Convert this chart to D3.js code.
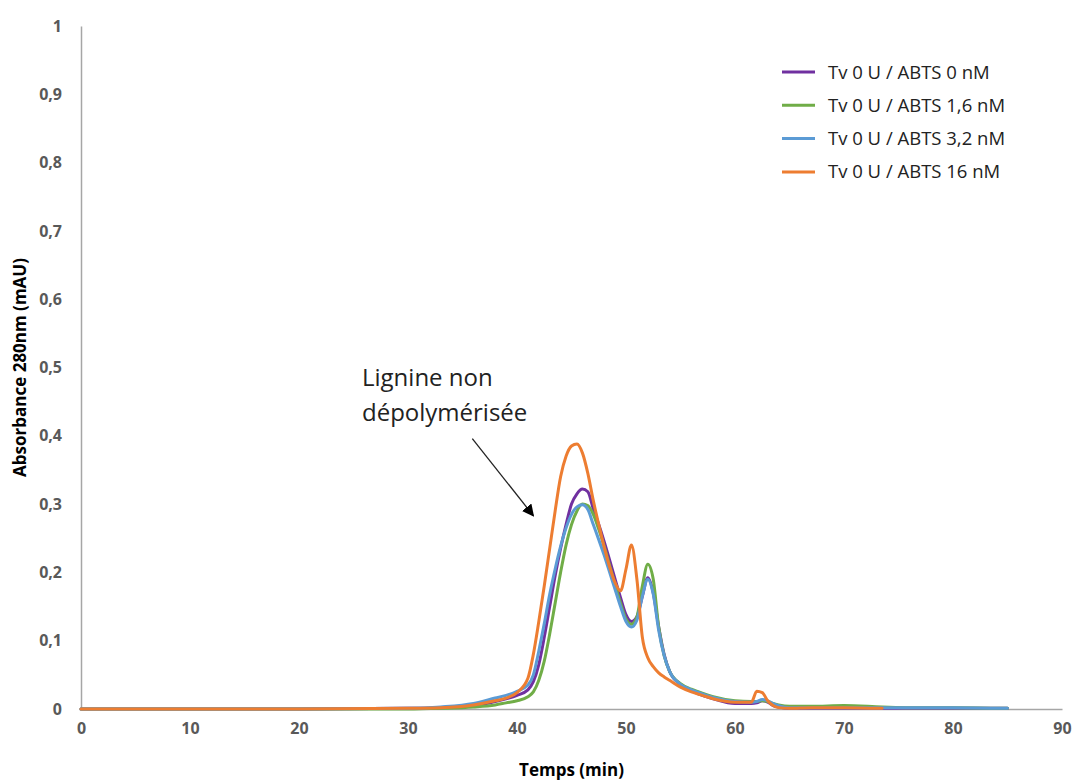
<!DOCTYPE html>
<html>
<head>
<meta charset="utf-8">
<script src="https://cdn.jsdelivr.net/npm/d3@7"></script>
<style>
  html, body { margin: 0; padding: 0; background: #fff; }
  svg { display: block; }
  text { font-family: "Open Sans", "DejaVu Sans", sans-serif; }
</style>
</head>
<body>
<svg id="chart" width="1075" height="782"></svg>
<script>
// ---------------- DATA ----------------
const seriesNames = ["Tv 0 U / ABTS 0 nM", "Tv 0 U / ABTS 1,6 nM", "Tv 0 U / ABTS 3,2 nM", "Tv 0 U / ABTS 16 nM"];
const seriesColors = ["#7030A0", "#70AD47", "#5B9BD5", "#ED7D31"];

const times = [0, 10, 20, 30, 33, 36, 38, 39, 40, 41, 41.5, 42, 42.5, 43, 43.5, 44, 44.5, 45, 45.5, 46, 46.5, 47, 47.5, 48, 48.5, 49, 49.5, 50, 50.5, 51, 51.5, 52, 52.5, 53, 53.5, 54, 55, 56, 57, 58, 60, 61.5, 62, 62.5, 63, 63.5, 64, 65, 67, 70, 73.5, 76, 80, 85];

const abts0 = [0, 0, 0, 0.001, 0.002, 0.005, 0.011, 0.015, 0.02, 0.028, 0.04, 0.065, 0.105, 0.15, 0.195, 0.235, 0.27, 0.3, 0.315, 0.322, 0.318, 0.293, 0.27, 0.245, 0.218, 0.19, 0.163, 0.138, 0.128, 0.135, 0.165, 0.192, 0.17, 0.12, 0.08, 0.055, 0.036, 0.027, 0.02, 0.015, 0.008, 0.008, 0.009, 0.012, 0.01, 0.005, 0.003, 0.001, 0.001, 0.001, 0.001, 0.001, 0.001, 0.001];

const abts16nm = [0, 0, 0, 0, 0.001, 0.003, 0.006, 0.009, 0.012, 0.018, 0.025, 0.042, 0.07, 0.11, 0.155, 0.2, 0.24, 0.27, 0.29, 0.3, 0.298, 0.285, 0.263, 0.238, 0.21, 0.182, 0.155, 0.132, 0.124, 0.135, 0.18, 0.212, 0.19, 0.12, 0.078, 0.055, 0.037, 0.029, 0.023, 0.018, 0.012, 0.011, 0.011, 0.012, 0.011, 0.008, 0.006, 0.004, 0.004, 0.005, 0.003, 0.002, 0.002, 0.001];

const abts32nm = [0, 0, 0, 0.001, 0.003, 0.008, 0.016, 0.02, 0.026, 0.035, 0.05, 0.085, 0.125, 0.168, 0.205, 0.238, 0.265, 0.285, 0.296, 0.299, 0.292, 0.27, 0.248, 0.225, 0.2, 0.175, 0.15, 0.128, 0.12, 0.13, 0.165, 0.19, 0.168, 0.115, 0.078, 0.055, 0.036, 0.028, 0.022, 0.017, 0.011, 0.01, 0.011, 0.014, 0.012, 0.008, 0.005, 0.002, 0.002, 0.002, 0.002, 0.002, 0.002, 0.001];

const abts16 = [0, 0, 0, 0.001, 0.002, 0.006, 0.012, 0.016, 0.024, 0.045, 0.08, 0.128, 0.18, 0.235, 0.29, 0.34, 0.37, 0.385, 0.388, 0.375, 0.345, 0.305, 0.27, 0.237, 0.208, 0.185, 0.173, 0.205, 0.24, 0.19, 0.105, 0.075, 0.062, 0.053, 0.047, 0.042, 0.032, 0.025, 0.02, 0.015, 0.01, 0.01, 0.026, 0.024, 0.012, 0.005, 0.002, 0.001, 0.002, 0.002, 0.001, null, null, null];

const seriesValues = [abts0, abts16nm, abts32nm, abts16];

const xTickValues = [0, 10, 20, 30, 40, 50, 60, 70, 80, 90];
const yTickValues = [0, 0.1, 0.2, 0.3, 0.4, 0.5, 0.6, 0.7, 0.8, 0.9, 1];
const yTickLabels = ["0", "0,1", "0,2", "0,3", "0,4", "0,5", "0,6", "0,7", "0,8", "0,9", "1"];

const xTitle = "Temps (min)";
const yTitle = "Absorbance 280nm (mAU)";
const annotationLines = ["Lignine non", "dépolymérisée"];
// annotation arrow in data coordinates: [start, end]
const arrowFrom = [35.9, 0.396];
const arrowTo = [41.5, 0.283];

// ---------------- CHART ----------------
const svg = d3.select("#chart");
const x = d3.scaleLinear().domain([0, 90]).range([81, 1062]);
const y = d3.scaleLinear().domain([0, 1]).range([709, 26]);

const axisColor = "#a6a6a6";
const tickColor = "#595959";

// Y axis
const yAxis = svg.append("g").attr("transform", `translate(${x(0)},0)`)
  .call(d3.axisLeft(y).tickValues(yTickValues).tickSize(0).tickPadding(19)
    .tickFormat((d, i) => yTickLabels[i]));
yAxis.select(".domain").attr("stroke", axisColor).attr("stroke-width", 1.5);
yAxis.selectAll("text").attr("fill", tickColor).attr("font-size", 16).attr("font-weight", 700)
  .attr("font-family", "'Open Sans', sans-serif");

// X axis
const xAxis = svg.append("g").attr("transform", `translate(0,${y(0)})`)
  .call(d3.axisBottom(x).tickValues(xTickValues).tickSize(0).tickPadding(14).tickFormat(d3.format("d")));
xAxis.select(".domain").attr("stroke", axisColor).attr("stroke-width", 1.5);
xAxis.selectAll("text").attr("fill", tickColor).attr("font-size", 16).attr("font-weight", 700)
  .attr("font-family", "'Open Sans', sans-serif");

// Axis titles
svg.append("text")
  .attr("x", (x(0) + x(90)) / 2).attr("y", 776)
  .attr("text-anchor", "middle").attr("font-size", 17).attr("font-weight", 700).attr("fill", "#000")
  .text(xTitle);
svg.append("text")
  .attr("transform", `translate(26,${(y(0) + y(1)) / 2}) rotate(-90)`)
  .attr("text-anchor", "middle").attr("font-size", 17).attr("font-weight", 700).attr("fill", "#000")
  .text(yTitle);

// Lines
const line = d3.line()
  .defined(d => d[1] !== null)
  .x(d => x(d[0]))
  .y(d => y(d[1]))
  .curve(d3.curveMonotoneX);

seriesValues.forEach((vals, i) => {
  const pts = times.map((t, j) => [t, vals[j]]);
  svg.append("path")
    .datum(pts)
    .attr("fill", "none")
    .attr("stroke", seriesColors[i])
    .attr("stroke-width", 3)
    .attr("stroke-linejoin", "round")
    .attr("stroke-linecap", "round")
    .attr("d", line);
});

// Legend
const legend = svg.append("g").attr("transform", "translate(782,72)");
seriesNames.forEach((name, i) => {
  const g = legend.append("g").attr("transform", `translate(0,${i * 33.3})`);
  g.append("line").attr("x1", 0).attr("x2", 33).attr("y1", 0).attr("y2", 0)
    .attr("stroke", seriesColors[i]).attr("stroke-width", 3);
  g.append("text").attr("x", 46).attr("y", 6.5).attr("font-size", 18.5).attr("fill", "#222").text(name);
});

// Annotation
const ann = svg.append("text").attr("x", 362).attr("font-size", 24).attr("fill", "#222");
annotationLines.forEach((l, i) => {
  ann.append("tspan").attr("x", 362).attr("y", 386 + i * 35).text(l);
});

svg.append("defs").append("marker")
  .attr("id", "arrowhead").attr("viewBox", "0 0 10 10")
  .attr("refX", 9).attr("refY", 5)
  .attr("markerWidth", 12).attr("markerHeight", 12)
  .attr("markerUnits", "userSpaceOnUse")
  .attr("orient", "auto")
  .append("path").attr("d", "M0,0 L10,5 L0,10 Z").attr("fill", "#000");

svg.append("line")
  .attr("x1", x(arrowFrom[0])).attr("y1", y(arrowFrom[1]))
  .attr("x2", x(arrowTo[0])).attr("y2", y(arrowTo[1]))
  .attr("stroke", "#222").attr("stroke-width", 1.3)
  .attr("marker-end", "url(#arrowhead)");
</script>
</body>
</html>
